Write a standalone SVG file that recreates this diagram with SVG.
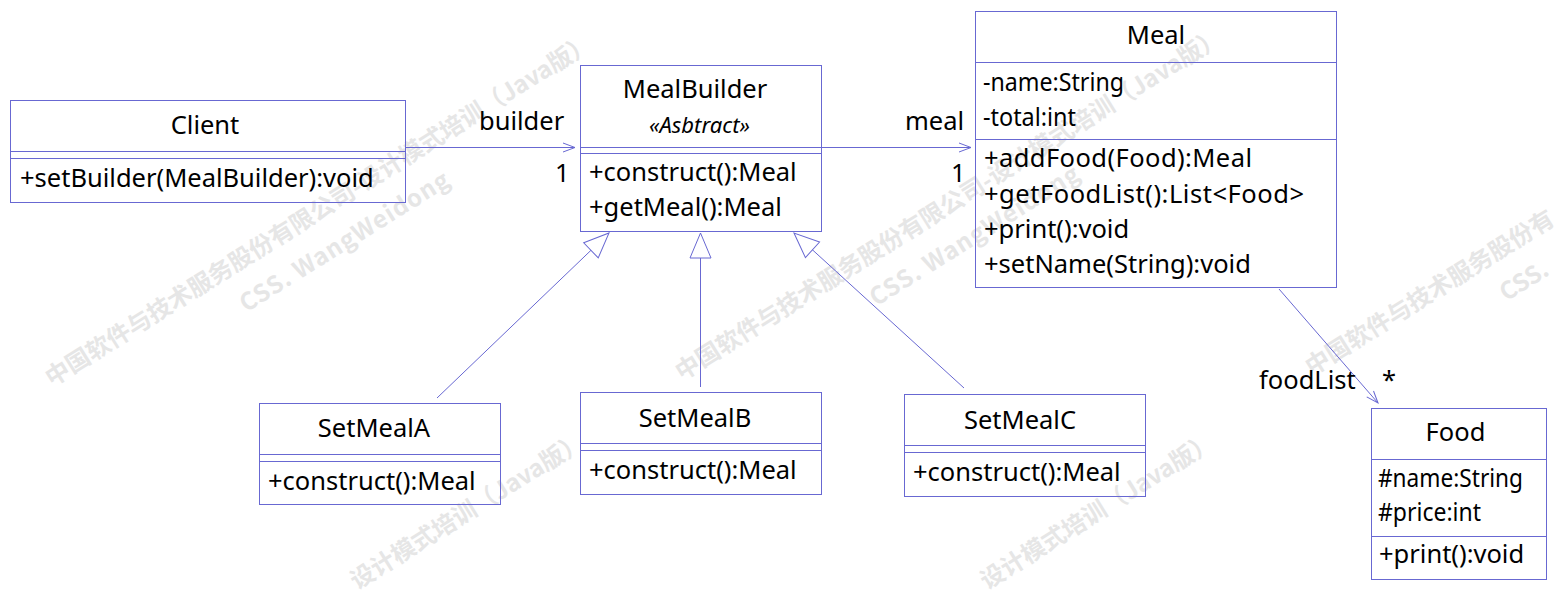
<svg xmlns="http://www.w3.org/2000/svg" width="1559" height="594" viewBox="0 0 1559 594">
<style>
.box{fill:none;stroke:#6868d2;stroke-width:1}
.sep{stroke:#6868d2;stroke-width:1}
.t{font-family:"Noto Sans","Liberation Sans",sans-serif;font-size:25.5px;fill:#000}
.c{text-anchor:middle}
.st{font-family:"Noto Sans","Liberation Sans",sans-serif;font-size:22px;font-style:italic;fill:#000;text-anchor:middle}
.wm{font-family:"Noto Sans CJK SC","Noto Sans",sans-serif;font-weight:bold;font-size:24px;fill:#e6e6e6}
.ln{fill:none;stroke:#6868d2;stroke-width:1}
</style>
<defs>
<marker id="open" markerUnits="userSpaceOnUse" markerWidth="14" markerHeight="11" refX="12" refY="4.5" orient="auto" overflow="visible">
<path d="M0,0 L12,4.5 L0,9" fill="none" stroke="#6868d2" stroke-width="1"/>
</marker>
<marker id="tri" markerUnits="userSpaceOnUse" markerWidth="27" markerHeight="23" refX="25" refY="10.5" orient="auto" overflow="visible">
<path d="M0,0 L25,10.5 L0,21 Z" fill="#fff" stroke="#6868d2" stroke-width="1"/>
</marker>
</defs>
<rect x="0" y="0" width="1559" height="594" fill="#fff"/>
<g id="watermark">
<text class="wm" transform="translate(52,387) rotate(-32)">中国软件与技术服务股份有限公司-设计模式培训（Java版）</text>
<text class="wm" transform="translate(52,387) rotate(-32)" x="204" y="40" textLength="242" lengthAdjust="spacing">CSS. WangWeidong</text>
<text class="wm" transform="translate(682,381) rotate(-32)">中国软件与技术服务股份有限公司-设计模式培训（Java版）</text>
<text class="wm" transform="translate(682,381) rotate(-32)" x="204" y="40" textLength="242" lengthAdjust="spacing">CSS. WangWeidong</text>
<text class="wm" transform="translate(1312,376) rotate(-32)">中国软件与技术服务股份有</text>
<text class="wm" transform="translate(1312,376) rotate(-32)" x="204" y="40">CSS.</text>
<text class="wm" transform="translate(357,590) rotate(-32)">设计模式培训（Java版）</text>
<text class="wm" transform="translate(987,590) rotate(-32)">设计模式培训（Java版）</text>
</g>
<g id="connectors">
<path class="ln" d="M405.5,147.5 L575,147.5" marker-end="url(#open)"/>
<path class="ln" d="M821.5,147.5 L971,147.5" marker-end="url(#open)"/>
<path class="ln" d="M1279,289 L1378,403" marker-end="url(#open)"/>
<path class="ln" d="M437,398 L609,233" marker-end="url(#tri)"/>
<path class="ln" d="M700.5,387 L700.5,233" marker-end="url(#tri)"/>
<path class="ln" d="M964,388 L794,233" marker-end="url(#tri)"/>
<text class="t" x="479" y="130">builder</text>
<text class="t" x="555" y="182">1</text>
<text class="t" x="905" y="130">meal</text>
<text class="t" x="951" y="182">1</text>
<text class="t" x="1259" y="389">foodList</text>
<text class="t" x="1382" y="389">*</text>
</g>
<g id="Client">
<rect class="box" x="10.5" y="100.5" width="395" height="102"/>
<line class="sep" x1="10.5" y1="151.5" x2="405.5" y2="151.5"/>
<line class="sep" x1="10.5" y1="158.5" x2="405.5" y2="158.5"/>
<text class="t c" x="205" y="134">Client</text>
<text class="t" x="20" y="187">+setBuilder(MealBuilder):void</text>
</g>
<g id="MealBuilder">
<rect class="box" x="580.5" y="65.5" width="241" height="166"/>
<line class="sep" x1="580.5" y1="147.5" x2="821.5" y2="147.5"/>
<line class="sep" x1="580.5" y1="153.5" x2="821.5" y2="153.5"/>
<text class="t c" x="695" y="98">MealBuilder</text>
<text class="st" x="699.5" y="133">«Asbtract»</text>
<text class="t" x="589" y="181">+construct():Meal</text>
<text class="t" x="589" y="216">+getMeal():Meal</text>
</g>
<g id="Meal">
<rect class="box" x="975.5" y="11.5" width="361" height="276"/>
<line class="sep" x1="975.5" y1="62.5" x2="1336.5" y2="62.5"/>
<line class="sep" x1="975.5" y1="139.5" x2="1336.5" y2="139.5"/>
<text class="t c" x="1156" y="44">Meal</text>
<text class="t" x="983" y="91" textLength="141" lengthAdjust="spacingAndGlyphs">-name:String</text>
<text class="t" x="983" y="126" textLength="93" lengthAdjust="spacingAndGlyphs">-total:int</text>
<text class="t" x="984" y="167" textLength="268" lengthAdjust="spacing">+addFood(Food):Meal</text>
<text class="t" x="984" y="202.5" textLength="320" lengthAdjust="spacing">+getFoodList():List&lt;Food&gt;</text>
<text class="t" x="984" y="237.5">+print():void</text>
<text class="t" x="984" y="272.5">+setName(String):void</text>
</g>
<g id="Food">
<rect class="box" x="1371.5" y="408.5" width="175" height="171"/>
<line class="sep" x1="1371.5" y1="459.5" x2="1546.5" y2="459.5"/>
<line class="sep" x1="1371.5" y1="536.5" x2="1546.5" y2="536.5"/>
<text class="t c" x="1455.5" y="441">Food</text>
<text class="t" x="1378" y="487" textLength="145" lengthAdjust="spacingAndGlyphs">#name:String</text>
<text class="t" x="1378" y="521" textLength="103" lengthAdjust="spacingAndGlyphs">#price:int</text>
<text class="t" x="1379" y="563">+print():void</text>
</g>
<g id="SetMealA">
<rect class="box" x="259.5" y="403.5" width="241" height="101"/>
<line class="sep" x1="259.5" y1="454.5" x2="500.5" y2="454.5"/>
<line class="sep" x1="259.5" y1="461.5" x2="500.5" y2="461.5"/>
<text class="t c" x="374" y="437">SetMealA</text>
<text class="t" x="268" y="490">+construct():Meal</text>
</g>
<g id="SetMealB">
<rect class="box" x="580.5" y="392.5" width="241" height="102"/>
<line class="sep" x1="580.5" y1="443.5" x2="821.5" y2="443.5"/>
<line class="sep" x1="580.5" y1="450.5" x2="821.5" y2="450.5"/>
<text class="t c" x="695" y="427">SetMealB</text>
<text class="t" x="589" y="479">+construct():Meal</text>
</g>
<g id="SetMealC">
<rect class="box" x="904.5" y="394.5" width="241" height="102"/>
<line class="sep" x1="904.5" y1="445.5" x2="1145.5" y2="445.5"/>
<line class="sep" x1="904.5" y1="452.5" x2="1145.5" y2="452.5"/>
<text class="t c" x="1020" y="428.5">SetMealC</text>
<text class="t" x="913" y="481">+construct():Meal</text>
</g>
</svg>
